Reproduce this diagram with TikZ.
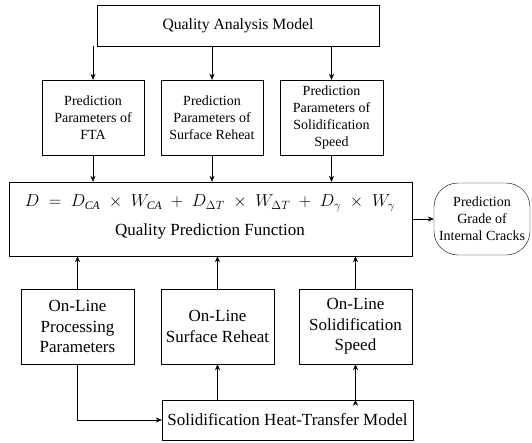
\documentclass[tikz,border=0pt]{standalone}
\usepackage{fontspec}
\setmainfont{Liberation Serif}
\usepackage{tikz}
\usetikzlibrary{arrows.meta, positioning}
\tikzset{>={Stealth[length=6pt, width=5pt]}, line width=0.8pt,
  block/.style={draw, rectangle, align=center, inner sep=2pt, font=\fontsize{17}{20.5}\selectfont},
  small block/.style={draw, rectangle, align=center, inner sep=2pt, font=\fontsize{14}{17}\selectfont},
  outcome/.style={draw, rectangle, rounded corners=24pt, align=center, inner sep=1pt, font=\fontsize{14}{17}\selectfont}}

\begin{document}
\begin{tikzpicture}[x=1pt, y=-1pt]
	\useasboundingbox (0,0) rectangle (532,442);
	\node[block, font=\fontsize{15.7}{19}\selectfont, minimum width=282, minimum height=41] (QAM) at (238,25.5) {Quality Analysis Model};
	\node[small block, minimum width=102, minimum height=75] (FTA) at (93,117.5) {Prediction\\Parameters of\\FTA};
	\node[small block, minimum width=102, minimum height=75] (Reheat) at (212,117.5) {Prediction\\Parameters of\\Surface Reheat};
	\node[small block, minimum width=103, minimum height=75] (Speed) at (331.5,117.5) {Prediction\\Parameters of\\Solidification\\Speed};
	\node[block, minimum width=403, minimum height=74] (QPF) at (210.5,219) {};
	\node[font=\fontsize{16.5}{20}\selectfont] (Formula) at (210,203)
		{$D \;=\; D_{\mathit{CA}} \;\times\; W_{\mathit{CA}} \;+\; D_{\Delta T} \;\times\; W_{\Delta T} \;+\; D_{\gamma} \;\times\; W_{\gamma}$};
	\node[font=\fontsize{17}{20.5}\selectfont] (QPF label) at (210,231) {Quality Prediction Function};
	\node[outcome, minimum width=96, minimum height=72] (Grade) at (482,219) {Prediction\\Grade of\\Internal Cracks};
	\node[block, minimum width=113, minimum height=75] (OL Proc) at (77.5,326.5) {On-Line\\Processing\\Parameters};
	\node[block, minimum width=113, minimum height=75] (OL Reheat) at (217.5,326.5) {On-Line\\Surface Reheat};
	\node[block, minimum width=113, minimum height=75] (OL Speed) at (355.5,326.5) {On-Line\\Solidification\\Speed};
	\node[block, minimum width=251, minimum height=40] (SHT) at (287.5,420) {Solidification Heat-Transfer Model};
	\draw[->]
		(FTA.north |- QAM.south) edge (FTA.north)
		(Reheat.north |- QAM.south) edge (Reheat.north)
		(Speed.north |- QAM.south) edge (Speed.north)
		(FTA.south) edge (FTA.south |- QPF.north)
		(Reheat.south) edge (Reheat.south |- QPF.north)
		(Speed.south) edge (Speed.south |- QPF.north)
		(QPF.east) edge (Grade.west)
		(OL Proc.north) edge (OL Proc.north |- QPF.south)
		(OL Reheat.north) edge (OL Reheat.north |- QPF.south)
		(OL Speed.north) edge (OL Speed.north |- QPF.south)
		(SHT.north -| OL Reheat.south) edge (OL Reheat.south)
		(SHT.north -| OL Speed.south) edge (OL Speed.south);
	\draw[->] (OL Proc.south) |- (SHT.west);
\end{tikzpicture}
\end{document}
